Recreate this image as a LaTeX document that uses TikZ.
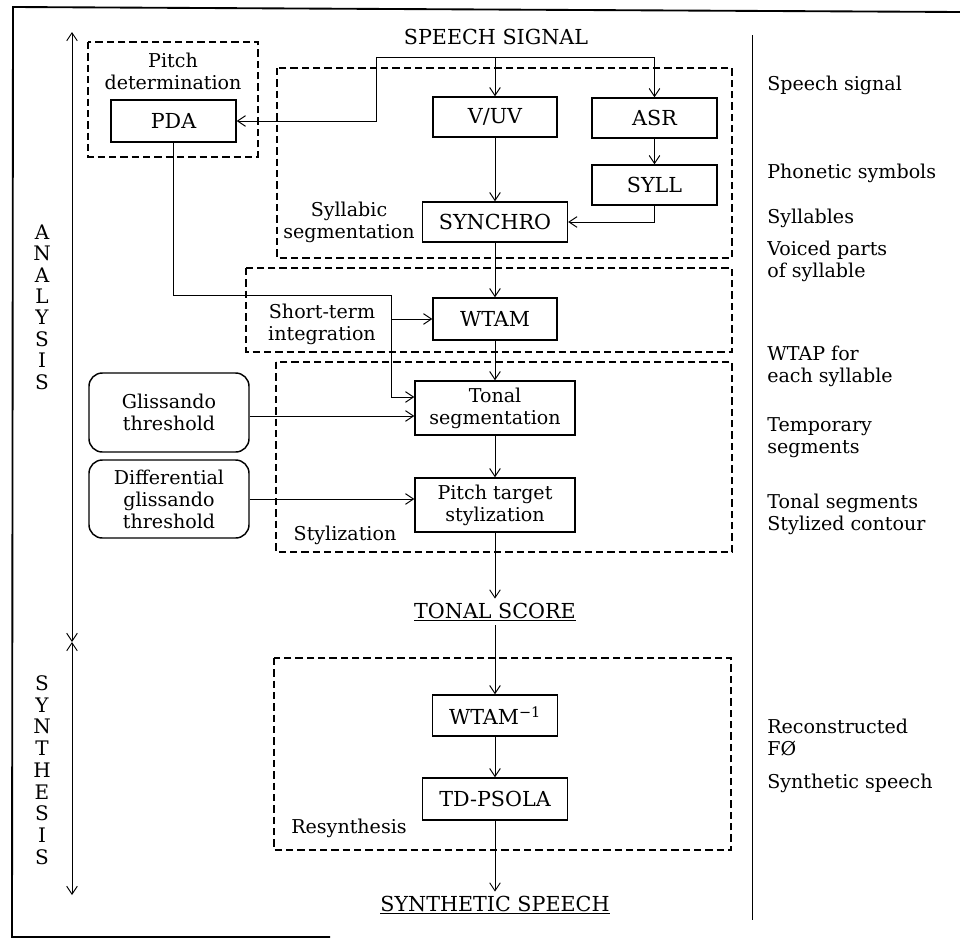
\documentclass[tikz,border=0pt]{standalone}
\usepackage{fontspec}
\setmainfont{DejaVu Serif}
\usetikzlibrary{arrows.meta}
\begin{document}
\begin{tikzpicture}[x=0.75pt,y=-0.75pt,
  every node/.style={font=\fontsize{14.3}{16.5}\selectfont},
  caps/.style={font=\fontsize{15.5}{17}\selectfont},
  box/.style={draw,line width=1.1pt,inner sep=0pt,align=center},
  rbox/.style={box,rounded corners=10pt},
  grp/.style={draw,line width=0.9pt,dash pattern=on 5.5pt off 3pt},
  arr/.style={line width=0.7pt,-{Straight Barb[length=6pt,width=8pt]}},
  con/.style={line width=0.7pt},
  dbl/.style={line width=0.7pt,{Straight Barb[length=6pt,width=8pt]}-{Straight Barb[length=6pt,width=8pt]}},
  lbl/.style={align=center,inner sep=0pt},
  side/.style={anchor=west,align=left,inner sep=0pt}]
\useasboundingbox (0,0) rectangle (960,939);
% frame
\draw[line width=1.4pt] (960,12) -- (13,7) -- (12,937) -- (330,937);
\draw[line width=0.7pt] (752,35) -- (752,920);
% group boxes
\draw[grp] (88,42) rectangle (258,157);
\draw[grp] (277,68) rectangle (732,258);
\draw[grp] (246,268) rectangle (732,352);
\draw[grp] (276,362) rectangle (732,552);
\draw[grp] (274,658) rectangle (731,850);
% titles
\node[lbl,caps] (sig) at (496,37) {SPEECH SIGNAL};
\node[lbl] (pdt) at (173,71) {Pitch\\determination};
\node[lbl] (syt) at (349,222) {Syllabic\\segmentation};
\node[lbl] (stt) at (322,324) {Short-term\\integration};
\node[lbl] (stz) at (345,535) {Stylization};
\node[lbl] (rst) at (349,828) {Resynthesis};
% boxes
\node[box,caps,minimum width=93.75pt,minimum height=31.5pt] (pda) at (173.5,121) {PDA};
\node[box,caps,minimum width=93pt,minimum height=30pt] (vuv) at (495,117) {V/UV};
\node[box,caps,minimum width=93.75pt,minimum height=30pt] (asr) at (654.5,118) {ASR};
\node[box,caps,minimum width=93.75pt,minimum height=30pt] (syll) at (654.5,185) {SYLL};
\node[box,caps,minimum width=108.75pt,minimum height=30pt] (synchro) at (495,222) {SYNCHRO};
\node[box,caps,minimum width=93pt,minimum height=31.5pt] (wtam) at (495,319) {WTAM};
\node[box,minimum width=120pt,minimum height=40.5pt] (tonal) at (495,408) {Tonal\\segmentation};
\node[box,minimum width=120pt,minimum height=40.5pt] (pitch) at (495,505) {Pitch target\\stylization};
\node[rbox,minimum width=120pt,minimum height=59.25pt] (gl) at (169,412.5) {Glissando\\threshold};
\node[rbox,minimum width=120pt,minimum height=58.5pt] (dgl) at (169,499) {Differential\\glissando\\threshold};
\node[lbl,caps,inner sep=3pt] (score) at (495,612) {\underline{TONAL SCORE}};
\node[box,caps,minimum width=93.75pt,minimum height=30.75pt] (winv) at (495,715.5) {WTAM\textsuperscript{−1}};
\node[box,caps,minimum width=108.75pt,minimum height=31.5pt] (td) at (495,799) {TD-PSOLA};
\node[lbl,caps,inner sep=3pt] (synth) at (495,905) {\underline{SYNTHETIC SPEECH}};
% connectors
\coordinate (b1) at (376,57);
\coordinate (b2) at (495,57);
\coordinate (b3) at (654.5,57);
\draw[con] (b1) -- (b3);
\draw[arr] (b1) |- (pda.east);
\draw[arr] (b2) -- (vuv.north);
\draw[arr] (b3) -- (asr.north);
\draw[arr] (asr) -- (syll);
\draw[arr] (vuv) -- (synchro);
\draw[arr] (syll.south) |- (synchro.east);
\draw[arr] (synchro) -- (wtam);
\coordinate (c1) at (391,295);
\coordinate (tin) at ([yshift=8.25pt]tonal.west);
\coordinate (gin) at ([yshift=-6pt]tonal.west);
\draw[arr] (pda.south) |- (c1) |- (tin);
\draw[arr] (c1 |- wtam.west) -- (wtam.west);
\draw[arr] (wtam) -- (tonal);
\draw[arr] (gl.east |- gin) -- (gin);
\draw[arr] (tonal) -- (pitch);
\draw[arr] (dgl.east) -- (pitch.west |- dgl.east);
\draw[arr] (pitch) -- (score);
\draw[arr] (score) -- (winv);
\draw[arr] (winv) -- (td);
\draw[arr] (td) -- (synth);
% phase arrows
\coordinate (p1) at (72,32);
\coordinate (p2) at (72,642);
\coordinate (p3) at (72,895);
\draw[dbl] (p1) -- (p2);
\draw[dbl] (p2) -- (p3);
\node[lbl,font=\fontsize{15}{16.05}\selectfont] (ana) at (42,307) {A\\N\\A\\L\\Y\\S\\I\\S};
\node[lbl,font=\fontsize{15}{16.3}\selectfont] (syn) at (42,770) {S\\Y\\N\\T\\H\\E\\S\\I\\S};
% side labels
\node[side] (s1) at (767,85) {Speech signal};
\node[side] (s2) at (767,173) {Phonetic symbols};
\node[side] (s3) at (767,218) {Syllables};
\node[side] (s4) at (767,261) {Voiced parts\\of syllable};
\node[side] (s5) at (767,366) {WTAP for\\each syllable};
\node[side] (s6) at (767,438) {Temporary\\segments};
\node[side] (s7) at (767,514) {Tonal segments\\Stylized contour};
\node[side] (s8) at (767,738) {Reconstructed\\FØ};
\node[side] (s9) at (767,783) {Synthetic speech};
\end{tikzpicture}
\end{document}
